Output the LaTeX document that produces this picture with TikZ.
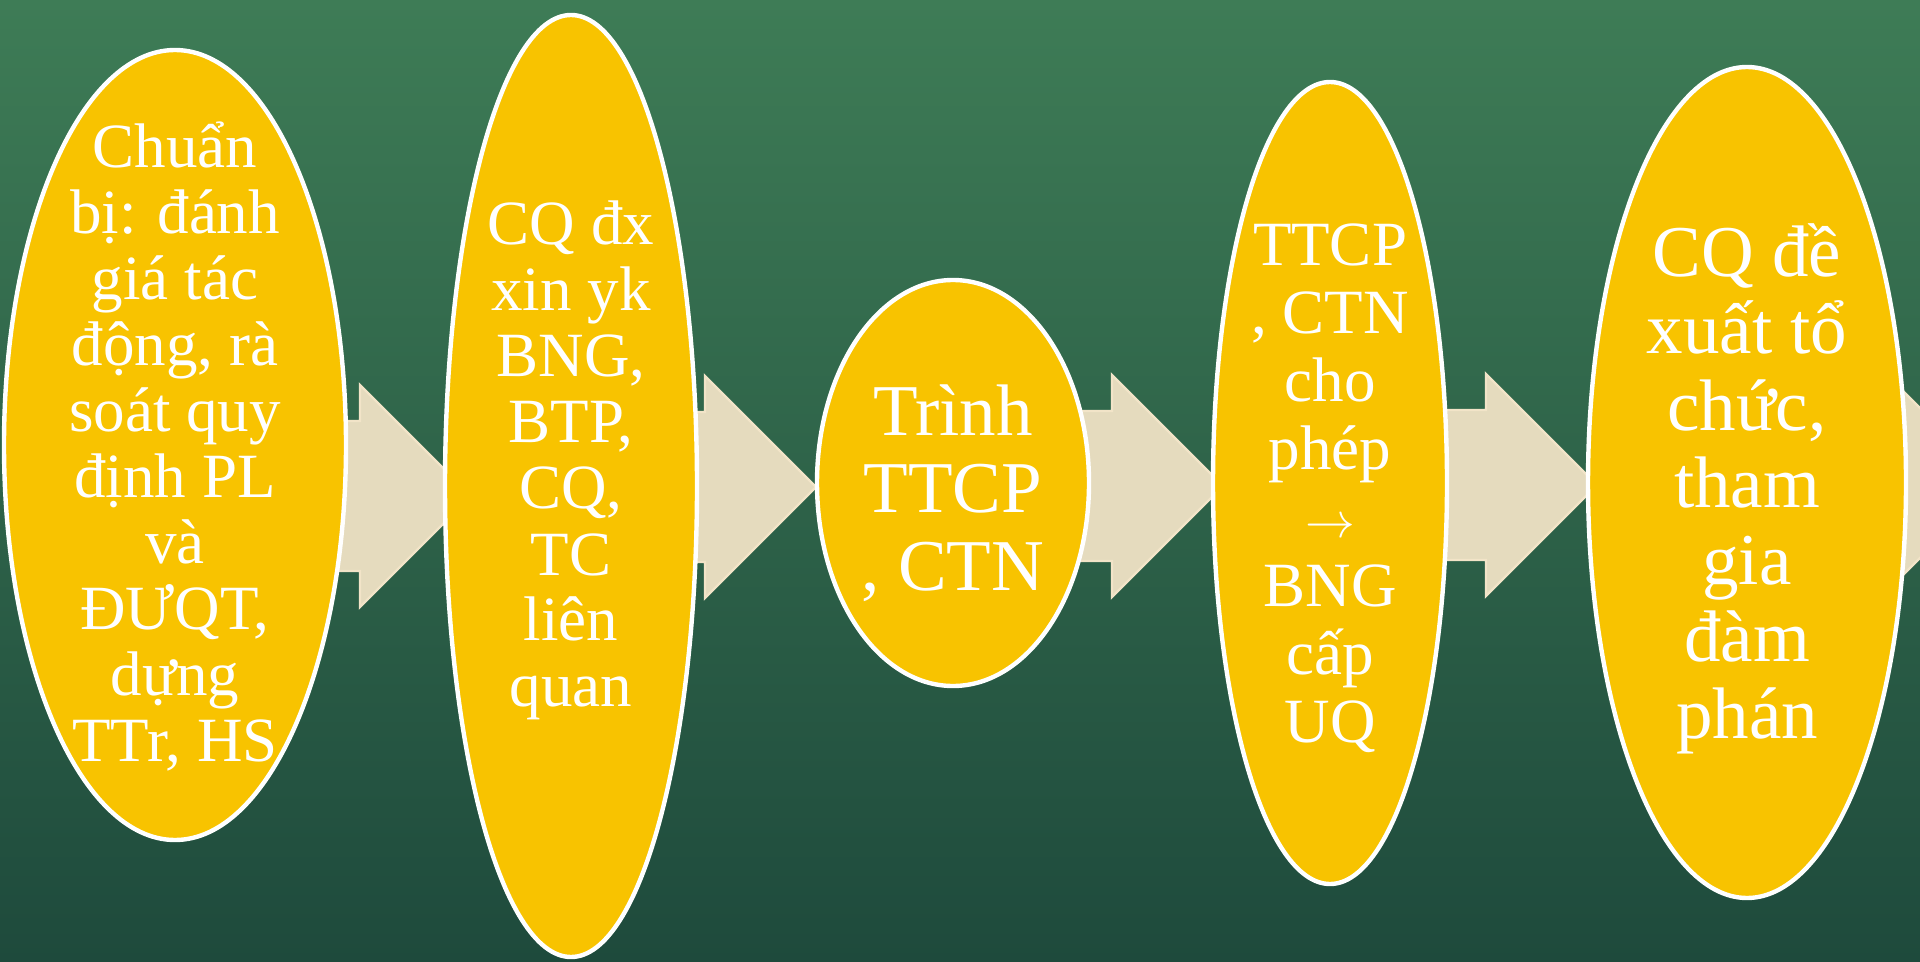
\documentclass[tikz,border=0pt]{standalone}
\usepackage{fontspec}
\setmainfont{Liberation Serif}
\usetikzlibrary{shapes.geometric}
\definecolor{bgtop}{RGB}{62,124,86}
\definecolor{bgmid}{RGB}{44,99,72}
\definecolor{bgbot}{RGB}{30,74,60}
\definecolor{stepyellow}{RGB}{248,195,0}
\definecolor{arrowfill}{RGB}{229,219,190}
\definecolor{arrowline}{RGB}{242,228,200}
\newcommand{\linesstack}[2]{\vtop{\baselineskip=#1\relax\lineskiplimit=-\maxdimen\lineskip=0pt\halign{\hfil##\hfil\cr#2\crcr}}}
\newcommand{\blkarrow}[3]{\draw[blockarrow] (#1,#3-75) -- (#2,#3-75) -- (#2,#3-111) -- (#2+111,#3) -- (#2,#3+111) -- (#2,#3+75) -- (#1,#3+75) -- cycle;}
\tikzset{
  stepoval/.style={ellipse, draw=white, line width=2.2pt, fill=stepyellow, inner sep=0pt},
  steptext/.style={text=white, anchor=base, inner sep=0pt},
  blockarrow/.style={fill=arrowfill, draw=arrowline, line width=1.2pt, line join=miter},
}
\begin{document}
\begin{tikzpicture}[x=0.5pt,y=-0.5pt]
\useasboundingbox (0,0) rectangle (1920,962);
\shade[top color=bgtop, middle color=bgmid, bottom color=bgbot] (0,0) rectangle (1920,962);
% block arrows (behind the ovals)
\blkarrow{300}{360}{496}
\blkarrow{650}{705}{487}
\blkarrow{1040}{1112}{486}
\blkarrow{1400}{1486}{485}
\blkarrow{1850}{1884}{483}
% ovals
\node[stepoval, minimum width=171pt, minimum height=395pt] (e1) at (175,445) {};
\node[stepoval, minimum width=126pt, minimum height=471pt] (e2) at (571,486) {};
\node[stepoval, minimum width=136pt, minimum height=203pt] (e3) at (953,483) {};
\node[stepoval, minimum width=117pt, minimum height=401pt] (e4) at (1330,483) {};
\node[stepoval, minimum width=159pt, minimum height=415.5pt] (e5) at (1747,482.5) {};
% texts
\node[steptext, font=\fontsize{31.5}{33}\selectfont] (t1) at (175,168)
  {\linesstack{33pt}{Chuẩn\cr bị: đánh\cr giá tác\cr động, rà\cr soát quy\cr định PL\cr và\cr ĐƯQT,\cr dựng\cr TTr, HS}};
\node[steptext, font=\fontsize{31.5}{33}\selectfont] (t2) at (571,245)
  {\linesstack{33pt}{CQ đx\cr xin yk\cr BNG,\cr BTP,\cr CQ,\cr TC\cr liên\cr quan}};
\node[steptext, font=\fontsize{36.5}{38.75}\selectfont] (t3) at (953,435)
  {\linesstack{38.75pt}{Trình\cr TTCP\cr , CTN}};
\node[steptext, font=\fontsize{31.5}{34}\selectfont] (t4) at (1330,266)
  {\linesstack{34pt}{TTCP\cr , CTN\cr cho\cr phép\cr $\rightarrow$\cr BNG\cr cấp\cr UQ}};
\node[steptext, font=\fontsize{36.5}{38.5}\selectfont] (t5) at (1747,277)
  {\linesstack{38.5pt}{CQ đề\cr xuất tổ\cr chức,\cr tham\cr gia\cr đàm\cr phán}};
\end{tikzpicture}
\end{document}
